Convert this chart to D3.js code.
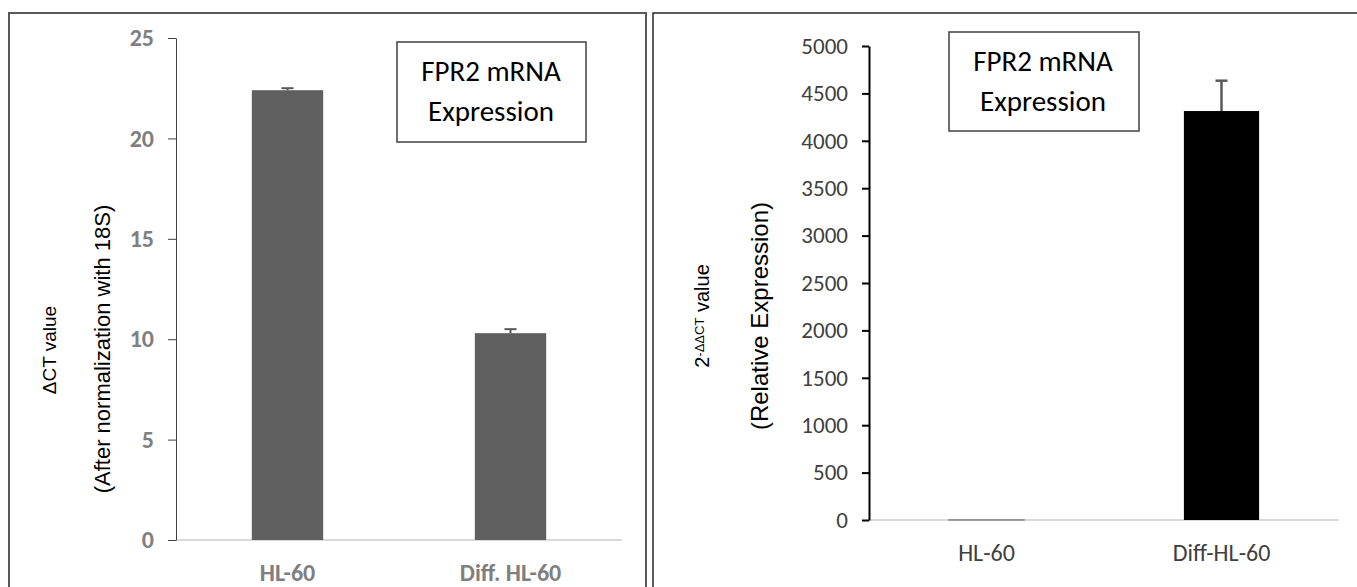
<!DOCTYPE html>
<html lang="en">
<head>
<meta charset="UTF-8">
<title>FPR2 mRNA Expression</title>
<style>
  * { margin: 0; padding: 0; }
  body { background: #fff; }
  svg { display: block; }
</style>
</head>
<body>
<div id="chart-area"></div>
<script src="https://cdn.jsdelivr.net/npm/d3@7/dist/d3.min.js"></script>
<script>
  // data
  const cellLinesLeft = ['HL-60', 'Diff. HL-60']
  const deltaCt = [22.4, 10.3]
  const deltaCtErr = [0.1, 0.2]
  const leftTicks = [0, 5, 10, 15, 20, 25]

  const cellLinesRight = ['HL-60', 'Diff-HL-60']
  const relExpr = [1, 4314]
  const relExprErr = [0, 320]
  const rightTicks = [0, 500, 1000, 1500, 2000, 2500, 3000, 3500, 4000, 4500, 5000]

  const CALIBRI = "Carlito, Lato, 'Open Sans', sans-serif"
  const ARIAL = "'Liberation Sans', Arial, sans-serif"

  const svg = d3.select('#chart-area').append('svg')
    .attr('width', 1357)
    .attr('height', 587)

  // panel frames
  svg.append('rect')
    .attr('x', 9).attr('y', 13).attr('width', 637).attr('height', 600)
    .attr('fill', 'none').attr('stroke', '#595959').attr('stroke-width', 2)
  svg.append('rect')
    .attr('x', 653).attr('y', 13).attr('width', 720).attr('height', 600)
    .attr('fill', 'none').attr('stroke', '#262626').attr('stroke-width', 1.5)

  // ---------- left chart ----------
  const xL = d3.scaleBand().domain(cellLinesLeft)
    .range([176, 622])
    .paddingInner(0.68)
    .paddingOuter(0.34)
  const yL = d3.scaleLinear().domain([0, 25]).range([540, 38])

  const gL = svg.append('g')

  gL.append('line')
    .attr('x1', 176).attr('x2', 622)
    .attr('y1', yL(0)).attr('y2', yL(0))
    .attr('stroke', '#d9d9d9').attr('stroke-width', 2)

  gL.append('g')
    .attr('transform', 'translate(176,0)')
    .call(d3.axisLeft(yL).tickValues(leftTicks).tickSize(8).tickPadding(14).tickSizeOuter(0)
      .tickFormat(d3.format('d')))
    .call(g => g.select('.domain').attr('stroke', '#404040'))
    .call(g => g.selectAll('.tick line').attr('stroke', '#404040'))
    .call(g => g.selectAll('.tick text')
      .attr('fill', '#7f7f7f')
      .attr('font-family', CALIBRI)
      .attr('font-weight', 'bold')
      .attr('font-size', '24px'))

  gL.selectAll('rect.bar')
    .data(deltaCt)
    .join('rect')
    .attr('class', 'bar')
    .attr('x', (d, i) => xL(cellLinesLeft[i]))
    .attr('width', xL.bandwidth())
    .attr('y', d => yL(d))
    .attr('height', d => yL(0) - yL(d))
    .attr('fill', '#5f5f5f')

  const errL = gL.selectAll('g.err')
    .data(deltaCt)
    .join('g')
    .attr('class', 'err')
  errL.append('line')
    .attr('x1', (d, i) => xL(cellLinesLeft[i]) + xL.bandwidth() / 2)
    .attr('x2', (d, i) => xL(cellLinesLeft[i]) + xL.bandwidth() / 2)
    .attr('y1', d => yL(d))
    .attr('y2', (d, i) => yL(d + deltaCtErr[i]))
    .attr('stroke', '#595959').attr('stroke-width', 2)
  errL.append('line')
    .attr('x1', (d, i) => xL(cellLinesLeft[i]) + xL.bandwidth() / 2 - 6)
    .attr('x2', (d, i) => xL(cellLinesLeft[i]) + xL.bandwidth() / 2 + 6)
    .attr('y1', (d, i) => yL(d + deltaCtErr[i]))
    .attr('y2', (d, i) => yL(d + deltaCtErr[i]))
    .attr('stroke', '#595959').attr('stroke-width', 2)

  gL.selectAll('text.xlab')
    .data(cellLinesLeft)
    .join('text')
    .attr('class', 'xlab')
    .attr('x', d => xL(d) + xL.bandwidth() / 2)
    .attr('y', 581)
    .attr('text-anchor', 'middle')
    .attr('fill', '#7f7f7f')
    .attr('font-family', CALIBRI)
    .attr('font-weight', 'bold')
    .attr('font-size', '24px')
    .text(d => d)

  gL.append('text')
    .attr('transform', 'translate(56,350) rotate(-90)')
    .attr('text-anchor', 'middle')
    .attr('font-family', ARIAL)
    .attr('font-size', '19px')
    .text('\u0394CT value')
  gL.append('text')
    .attr('transform', 'translate(110,349) rotate(-90)')
    .attr('text-anchor', 'middle')
    .attr('font-family', ARIAL)
    .attr('font-size', '22px')
    .text('(After normalization with 18S)')

  // legend box
  gL.append('rect')
    .attr('x', 397).attr('y', 42).attr('width', 189).attr('height', 100)
    .attr('fill', '#fff').attr('stroke', '#404040').attr('stroke-width', 1.5)
  gL.append('text')
    .attr('x', 491).attr('y', 81)
    .attr('text-anchor', 'middle')
    .attr('font-family', CALIBRI).attr('font-size', '29px')
    .text('FPR2 mRNA')
  gL.append('text')
    .attr('x', 491).attr('y', 121)
    .attr('text-anchor', 'middle')
    .attr('font-family', CALIBRI).attr('font-size', '29px')
    .text('Expression')

  // ---------- right chart ----------
  const xR = d3.scaleBand().domain(cellLinesRight)
    .range([869, 1339])
    .paddingInner(0.68)
    .paddingOuter(0.34)
  const yR = d3.scaleLinear().domain([0, 5000]).range([520, 46])

  const gR = svg.append('g')

  gR.append('line')
    .attr('x1', 869).attr('x2', 1339)
    .attr('y1', yR(0)).attr('y2', yR(0))
    .attr('stroke', '#d9d9d9').attr('stroke-width', 2)

  gR.selectAll('rect.bar')
    .data(relExpr)
    .join('rect')
    .attr('class', 'bar')
    .attr('x', (d, i) => xR(cellLinesRight[i]))
    .attr('width', xR.bandwidth())
    .attr('y', d => yR(d))
    .attr('height', d => yR(0) - yR(d))
    .attr('fill', '#000')
    .attr('stroke', '#8a8a8a')
    .attr('stroke-width', (d, i) => i === 0 ? 1.5 : 0)

  const errR = gR.selectAll('g.err')
    .data(relExpr)
    .join('g')
    .attr('class', 'err')
    .filter((d, i) => relExprErr[i] > 0)
  errR.append('line')
    .attr('x1', d => xR(cellLinesRight[1]) + xR.bandwidth() / 2)
    .attr('x2', d => xR(cellLinesRight[1]) + xR.bandwidth() / 2)
    .attr('y1', d => yR(d))
    .attr('y2', d => yR(d + relExprErr[1]))
    .attr('stroke', '#595959').attr('stroke-width', 2.5)
  errR.append('line')
    .attr('x1', d => xR(cellLinesRight[1]) + xR.bandwidth() / 2 - 6)
    .attr('x2', d => xR(cellLinesRight[1]) + xR.bandwidth() / 2 + 6)
    .attr('y1', d => yR(d + relExprErr[1]))
    .attr('y2', d => yR(d + relExprErr[1]))
    .attr('stroke', '#595959').attr('stroke-width', 2.5)

  gR.append('g')
    .attr('transform', 'translate(869,0)')
    .call(d3.axisLeft(yR).tickValues(rightTicks).tickSize(7).tickPadding(14).tickSizeOuter(0)
      .tickFormat(d3.format('d')))
    .call(g => g.select('.domain').attr('stroke', '#000').attr('stroke-width', 2))
    .call(g => g.selectAll('.tick line').attr('stroke', '#000').attr('stroke-width', 2))
    .call(g => g.selectAll('.tick text')
      .attr('fill', '#404040')
      .attr('font-family', CALIBRI)
      .attr('font-size', '23px'))

  gR.selectAll('text.xlab')
    .data(cellLinesRight)
    .join('text')
    .attr('class', 'xlab')
    .attr('x', d => xR(d) + xR.bandwidth() / 2)
    .attr('y', 561)
    .attr('text-anchor', 'middle')
    .attr('fill', '#404040')
    .attr('font-family', CALIBRI)
    .attr('font-size', '24px')
    .text(d => d)

  const yLab = gR.append('text')
    .attr('transform', 'translate(709,316) rotate(-90)')
    .attr('text-anchor', 'middle')
    .attr('font-family', ARIAL)
    .attr('font-size', '20px')
  yLab.append('tspan').text('2')
  yLab.append('tspan').attr('font-size', '13px').attr('dy', -5).text('-\u0394\u0394CT')
  yLab.append('tspan').attr('dy', 5).text(' value')

  gR.append('text')
    .attr('transform', 'translate(768,316) rotate(-90)')
    .attr('text-anchor', 'middle')
    .attr('font-family', ARIAL)
    .attr('font-size', '24px')
    .text('(Relative Expression)')

  gR.append('rect')
    .attr('x', 949).attr('y', 32).attr('width', 190).attr('height', 99)
    .attr('fill', '#fff').attr('stroke', '#404040').attr('stroke-width', 1.5)
  gR.append('text')
    .attr('x', 1043).attr('y', 71)
    .attr('text-anchor', 'middle')
    .attr('font-family', CALIBRI).attr('font-size', '29px')
    .text('FPR2 mRNA')
  gR.append('text')
    .attr('x', 1043).attr('y', 111)
    .attr('text-anchor', 'middle')
    .attr('font-family', CALIBRI).attr('font-size', '29px')
    .text('Expression')
</script>
</body>
</html>
